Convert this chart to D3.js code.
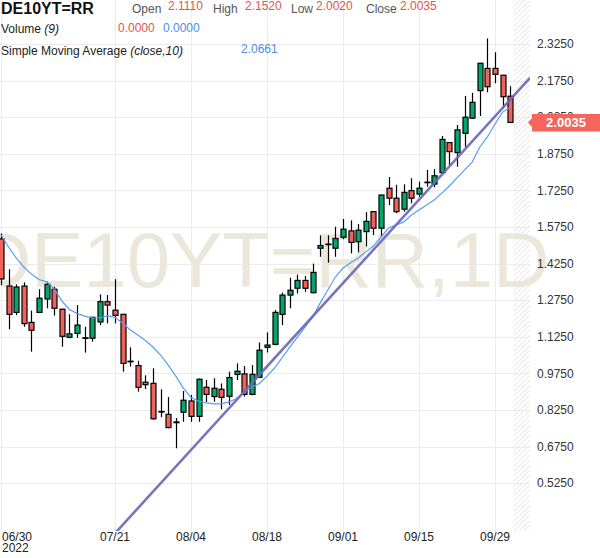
<!DOCTYPE html>
<html><head><meta charset="utf-8">
<script src="https://cdn.jsdelivr.net/npm/d3@7"></script>
<style>body{margin:0;background:#fff;} svg{display:block;font-family:"Liberation Sans",Arial,sans-serif;}</style>
</head><body><svg id="c" width="600" height="558"></svg>
<script>
const dates = ["06/30","07/01","07/04","07/05","07/06","07/07","07/08","07/11","07/12","07/13","07/14","07/15","07/18","07/19","07/20","07/21","07/22","07/25","07/26","07/27","07/28","07/29","08/01","08/02","08/03","08/04","08/05","08/08","08/09","08/10","08/11","08/12","08/15","08/16","08/17","08/18","08/19","08/22","08/23","08/24","08/25","08/26","08/29","08/30","08/31","09/01","09/02","09/05","09/06","09/07","09/08","09/09","09/12","09/13","09/14","09/15","09/16","09/19","09/20","09/21","09/22","09/23","09/26","09/27","09/28","09/29","09/30","10/03"];
const opens  = [1.526,1.333,1.225,1.333,1.184,1.225,1.280,1.320,1.238,1.123,1.139,1.121,1.119,1.186,1.269,1.234,1.217,1.025,1.007,0.939,0.934,0.819,0.807,0.776,0.816,0.862,0.799,0.918,0.880,0.910,0.881,0.971,0.973,0.889,0.959,1.082,1.094,1.217,1.296,1.324,1.356,1.306,1.488,1.503,1.488,1.533,1.559,1.515,1.556,1.638,1.570,1.734,1.693,1.648,1.724,1.710,1.757,1.751,1.798,1.921,1.880,1.959,2.021,2.134,2.225,2.225,2.197,2.111];
const highs  = [1.548,1.402,1.340,1.348,1.232,1.320,1.351,1.330,1.240,1.217,1.255,1.166,1.206,1.299,1.296,1.361,1.219,1.082,1.027,0.967,0.996,0.910,0.878,0.792,0.903,0.887,0.954,0.948,0.955,0.934,0.982,1.016,1.005,1.009,1.102,1.143,1.235,1.306,1.367,1.380,1.374,1.425,1.541,1.541,1.576,1.608,1.602,1.587,1.636,1.639,1.707,1.780,1.748,1.750,1.775,1.761,1.809,1.812,1.948,1.921,1.993,2.112,2.125,2.248,2.348,2.291,2.198,2.152];
const lows   = [1.337,1.156,1.214,1.166,1.064,1.222,1.242,1.212,1.084,1.119,1.121,1.060,1.105,1.173,1.180,1.180,0.982,1.003,0.900,0.911,0.785,0.796,0.750,0.668,0.777,0.777,0.777,0.858,0.859,0.828,0.846,0.948,0.880,0.885,0.956,1.061,1.090,1.173,1.242,1.303,1.309,1.303,1.453,1.429,1.453,1.525,1.467,1.471,1.495,1.542,1.535,1.665,1.631,1.638,1.672,1.699,1.740,1.738,1.795,1.829,1.822,1.902,2.018,2.030,2.127,2.164,2.062,2.002];
const closes = [1.362,1.217,1.329,1.179,1.152,1.283,1.340,1.242,1.127,1.137,1.173,1.119,1.205,1.269,1.255,1.213,1.016,1.023,0.918,0.929,0.789,0.817,0.753,0.773,0.865,0.799,0.951,0.889,0.914,0.877,0.958,0.984,0.889,0.971,1.070,1.091,1.225,1.296,1.316,1.356,1.324,1.389,1.499,1.505,1.528,1.566,1.512,1.562,1.598,1.570,1.706,1.693,1.638,1.717,1.693,1.734,1.759,1.785,1.934,1.884,1.973,2.025,2.086,2.246,2.150,2.201,2.109,2.0035];
const sma10  = [1.542,1.493,1.448,1.411,1.382,1.360,1.350,1.321,1.272,1.237,1.221,1.210,1.202,1.202,1.212,1.204,1.182,1.153,1.132,1.110,1.083,1.050,1.009,0.964,0.915,0.876,0.862,0.854,0.850,0.850,0.858,0.872,0.899,0.917,0.934,0.964,0.997,1.040,1.083,1.124,1.165,1.206,1.264,1.317,1.370,1.407,1.428,1.448,1.473,1.497,1.534,1.571,1.583,1.596,1.624,1.645,1.665,1.686,1.714,1.743,1.776,1.809,1.841,1.903,1.944,1.997,2.046,2.0661];
const volumeValues = [0.0000, 0.0000];
const yTicks = [0.525,0.675,0.825,0.975,1.125,1.275,1.425,1.575,1.725,1.875,2.025,2.175,2.325];
const xTickLabels = ["06/30","07/21","08/04","08/18","09/01","09/15","09/29"];
const trendDates = ["08/02","10/03"];
const trendValues = [0.593, 2.097];

const svg = d3.select("#c");
const W = 600, H = 558, plotR = 530, plotB = 531;
const GREEN = "#00a86b", RED = "#f0625a";

const x = d3.scalePoint().domain(dates).range([1, 510.2]);
const step = x.step();
const y = d3.scaleLinear().domain([0.525, 2.325]).range([483.2, 44]);

// hatch pattern
const defs = svg.append("defs");
const pat = defs.append("pattern").attr("id","hatch").attr("patternUnits","userSpaceOnUse").attr("width",5).attr("height",5);
pat.append("path").attr("d","M-1,1 L1,-1 M0,5 L5,0 M4,6 L6,4").attr("stroke","#e4e4e4").attr("stroke-width",1);
defs.append("clipPath").attr("id","plotclip").append("rect").attr("x",0).attr("y",0).attr("width",plotR).attr("height",plotB);

// grid
const grid = svg.append("g").attr("stroke","#ececec").attr("stroke-width",1).attr("shape-rendering","crispEdges");
grid.selectAll("line.h").data(yTicks).join("line").attr("x1",0).attr("x2",plotR).attr("y1",d=>Math.round(y(d))+0.5).attr("y2",d=>Math.round(y(d))+0.5);
grid.selectAll("line.v").data(xTickLabels).join("line").attr("y1",0).attr("y2",plotB).attr("x1",d=>Math.round(x(d))+0.5).attr("x2",d=>Math.round(x(d))+0.5);

// watermark
svg.append("text").attr("x",-25).attr("y",287).attr("font-size",78).attr("fill","#ebe7db").text("DE10YT=RR,1D");

// hatched future area
const lastX = x(dates[dates.length-1]);
svg.append("rect").attr("x", lastX + step/2).attr("y",0).attr("width", plotR - (lastX + step/2)).attr("height", plotB).attr("fill","url(#hatch)");

// candles
const idx = d3.range(dates.length);
const cg = svg.append("g");
cg.selectAll("line.w").data(idx).join("line")
  .attr("x1",i=>Math.round(x(dates[i]))+0.5).attr("x2",i=>Math.round(x(dates[i]))+0.5)
  .attr("y1",i=>y(highs[i])).attr("y2",i=>y(lows[i])).attr("stroke","#000").attr("stroke-width",1.2);
cg.selectAll("rect").data(idx).join("rect")
  .attr("x",i=>Math.round(x(dates[i]))-2)
  .attr("y",i=>y(Math.max(opens[i],closes[i])))
  .attr("width",5)
  .attr("height",i=>Math.max(0.6, Math.abs(y(opens[i])-y(closes[i]))))
  .attr("fill",i=>closes[i]>=opens[i]?GREEN:RED)
  .attr("stroke","#000").attr("stroke-width",1.2);

// SMA
svg.append("path").datum(idx).attr("fill","none").attr("stroke","#5b9cf6").attr("stroke-width",1.2)
  .attr("d", d3.line().x(i=>x(dates[i])).y(i=>y(sma10[i])));

// trend line
const tx1 = x(trendDates[0]), ty1 = y(trendValues[0]), tx2 = x(trendDates[1]), ty2 = y(trendValues[1]);
const slope = (ty2-ty1)/(tx2-tx1);
svg.append("line").attr("clip-path","url(#plotclip)")
  .attr("x1",0).attr("y1",ty1 + slope*(0-tx1)).attr("x2",plotR).attr("y2",ty1 + slope*(plotR-tx1))
  .attr("stroke","#6a66b6").attr("stroke-width",2.6).attr("stroke-opacity",0.9);

// y axis labels
svg.append("g").selectAll("text").data(yTicks).join("text")
  .attr("x",537).attr("y",d=>y(d)).attr("dy","0.35em").attr("font-size",12).attr("fill","#333")
  .text(d=>d3.format(".4f")(d));

// last price label
const lastClose = closes[closes.length-1];
const py = y(lastClose);
const pg = svg.append("g");
pg.append("path").attr("d",`M528,${py} L532,${py-4.5} L532,${py-8.5} L600,${py-8.5} L600,${py+9} L532,${py+9} L532,${py+4.5} Z`).attr("fill","#f4665c");
pg.append("text").attr("x",566).attr("y",py).attr("dy","0.36em").attr("text-anchor","middle").attr("font-size",13).attr("font-weight","bold").attr("fill","#fff").text(d3.format(".4f")(lastClose));

// x axis labels
svg.append("g").selectAll("text").data(xTickLabels).join("text")
  .attr("x",(d,i)=> i===0 ? 2 : x(d)).attr("y",541).attr("text-anchor",(d,i)=>i===0?"start":"middle")
  .attr("font-size",12).attr("fill","#222").text(d=>d);
svg.append("text").attr("x",2).attr("y",552).attr("font-size",12).attr("fill","#222").text("2022");

// header
const fmt = d3.format(".4f");
const n = dates.length-1;
const hdr = svg.append("g").attr("font-size",12);
hdr.append("text").attr("x",1).attr("y",14).attr("font-size",16).attr("font-weight","bold").attr("fill","#111").text("DE10YT=RR");
const lab = [["Open",132,opens[n],168],["High",213,highs[n],245],["Low",291,lows[n],316],["Close",366,closes[n],400]];
lab.forEach(([t,lx,v,vx])=>{
  hdr.append("text").attr("x",lx).attr("y",13).attr("fill","#555").text(t);
  hdr.append("text").attr("x",vx).attr("y",10).attr("fill","#e0554c").text(fmt(v));
});
const vt = hdr.append("text").attr("x",1).attr("y",33).attr("fill","#222");
vt.append("tspan").text("Volume ");
vt.append("tspan").attr("font-style","italic").text("(9)");
hdr.append("text").attr("x",118).attr("y",31.5).attr("fill","#e0554c").text(fmt(volumeValues[0]));
hdr.append("text").attr("x",163).attr("y",31.5).attr("fill","#4a8ee6").text(fmt(volumeValues[1]));
const st = hdr.append("text").attr("x",1).attr("y",54.5).attr("fill","#222");
st.append("tspan").text("Simple Moving Average ");
st.append("tspan").attr("font-style","italic").text("(close,10)");
hdr.append("text").attr("x",241).attr("y",52.5).attr("fill","#4a8ee6").text(fmt(sma10[n]));
</script></body></html>
